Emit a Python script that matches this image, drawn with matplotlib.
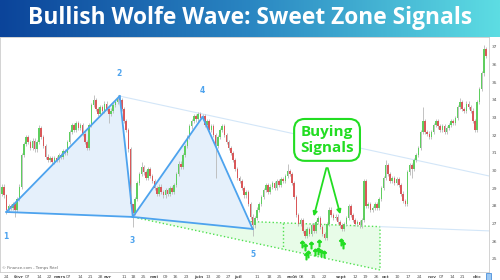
import numpy as np
import matplotlib
matplotlib.use("Agg")
import matplotlib.pyplot as plt
from matplotlib.colors import LinearSegmentedColormap
from matplotlib.patches import Polygon, Rectangle

# daily closes (open = previous close)
first_open = 28.7
closes = [
    29.1, 28.6, 27.8, 28.0, 27.9, 28.1, 27.8, 28.4, 29.1, 30.9,
    31.5, 31.9, 31.6, 31.3, 31.7, 31.2, 31.6, 32.4, 31.9, 31.4,
    30.8, 30.6, 30.7, 30.5, 30.7, 30.6, 30.9, 30.8, 31.1, 31.0,
    31.6, 32.2, 32.6, 32.3, 32.7, 32.4, 32.6, 32.1, 31.6, 31.3,
    32.6, 33.7, 34.0, 33.5, 33.2, 33.6, 33.4, 33.8, 33.5, 33.2,
    33.4, 33.7, 33.9, 34.1, 34.0, 33.5, 32.8, 32.3, 31.2, 28.1,
    27.6, 28.4, 29.3, 29.8, 30.2, 29.9, 29.6, 30.1, 29.7, 29.4,
    29.0, 28.7, 29.1, 28.8, 28.6, 28.9, 28.7, 29.0, 28.8, 29.2,
    29.8, 30.4, 30.2, 30.9, 31.4, 31.9, 32.5, 32.8, 33.1, 32.9,
    33.2, 33.0, 33.1, 32.6, 32.8, 32.3, 32.5, 32.0, 31.4, 31.9,
    32.3, 32.5, 32.0, 31.6, 31.3, 31.0, 30.6, 30.1, 29.6, 29.4,
    29.0, 28.6, 28.8, 28.1, 27.4, 26.9, 27.3, 27.8, 28.1, 28.5,
    28.9, 29.2, 28.8, 29.1, 29.3, 29.0, 29.4, 29.2, 29.5, 29.4,
    29.7, 30.0, 29.8, 29.3, 28.5, 27.5, 27.0, 27.2, 26.6, 26.3,
    26.7, 26.4, 26.9, 26.6, 27.1, 27.3, 26.8, 26.4, 26.2, 27.0,
    27.8, 27.5, 27.3, 27.4, 27.1, 26.9, 26.7, 27.0, 27.3, 28.0,
    27.5, 27.2, 27.0, 27.1, 26.9, 27.2, 29.4, 28.0, 28.1, 27.8,
    27.9, 28.1, 27.9, 28.4, 29.0, 29.6, 30.3, 29.8, 29.4, 29.6,
    29.3, 29.5, 29.2, 28.7, 28.3, 28.1, 29.9, 30.3, 30.1, 30.6,
    30.9, 31.3, 32.2, 32.8, 32.2, 32.1, 31.9, 32.2, 32.6, 32.8,
    32.5, 32.3, 32.5, 32.2, 32.4, 32.6, 32.8, 32.7, 33.0, 33.6,
    33.9, 33.5, 33.4, 33.8, 33.6, 33.4, 32.8, 32.3, 33.9, 34.6,
    35.5, 36.9, 36.5,
]
# the longer wicks: index -> (high, low)
long_wicks = {
    2: (28.7, 27.55), 6: (28.2, 27.4), 17: (32.6, None), 42: (34.3, None),
    49: (None, 32.7), 53: (34.3, None), 60: (28.1, 26.8), 64: (30.5, None),
    98: (None, 29.6), 115: (None, 26.3), 131: (30.4, None), 176: (30.6, None),
    188: (None, 29.6), 193: (33.6, None), 210: (34.1, None), 221: (37.1, None),
}

# wolfe wave points 1..5
wave_x = [2, 54, 60, 92, 115]
wave_y = [27.66, 34.22, 27.38, 33.04, 26.70]
wave_names = ["1", "2", "3", "4", "5"]
name_x = [1.8, 53.7, 59.6, 91.7, 115.1]
name_y = [26.25, 35.5, 26.02, 34.56, 25.23]

# faint 2-4 trendline
line24_x = [54, 223.4]
line24_y = [34.22, 29.70]

# sweet zone
zone_x = [60, 173.4, 173.4]
zone_y = [27.38, 26.83, 24.38]
zone_split_x = 128.9

# buy signal arrows
signal_x = [137.6, 139.0, 141.7, 145.4, 139.4, 140.4, 143.6, 145.0, 146.3, 147.7, 155.5, 156.4]
signal_y = [25.85, 25.68, 25.79, 25.91, 25.17, 25.28, 25.40, 25.45, 25.34, 25.28, 25.96, 25.79]

tick_pos = [1.8, 7.8, 11.9, 17, 21.6, 26.6, 30.7, 35.8, 40.4, 45, 48.6, 56, 60.1, 64.7,
            69.7, 74.8, 79.4, 84.4, 90.4, 94.5, 99.1, 103.7, 108.3, 117, 122.5, 127.5,
            133, 137.6, 142.7, 147.7, 155.5, 161.9, 166.5, 171.6, 176.1, 181.2, 186.2,
            191.3, 197.2, 201.8, 206.4, 211, 217.9]
tick_lab = ["24", "févr", "07", "14", "22", "mars", "07", "14", "21", "28", "avr", "11", "18",
            "25", "mai", "09", "16", "23", "juin", "13", "20", "27", "juil", "11", "18", "25",
            "août", "08", "15", "22", "sept", "12", "19", "26", "oct", "10", "17", "24", "nov",
            "07", "14", "21", "déc"]
price_ticks = list(range(25, 38))

GREEN = '#5fce5f'
RED = '#d9585a'
BLUE = '#4da3ee'
SIG = '#22dd22'

fig = plt.figure(figsize=(5, 2.8), dpi=100)

# --- banner ---
ax_t = fig.add_axes([0, 243 / 280, 1, 37 / 280])
cmap = LinearSegmentedColormap.from_list('ban', ['#0b449a', '#2a86c2', '#5ddde3'])
ax_t.imshow(np.linspace(0, 1, 256)[None, :], aspect='auto', cmap=cmap, extent=[0, 1, 0, 1])
ax_t.text(0.5, 0.5, "Bullish Wolfe Wave: Sweet Zone Signals", color='white', fontsize=16.4,
          fontweight='bold', family='Open Sans', ha='center', va='center')
ax_t.axis('off')

# --- chart ---
ax = fig.add_axes([0, 8 / 280, 489 / 500, 235 / 280])
n = len(closes)
idx = np.arange(n)
c = np.array(closes)
o = np.concatenate([[first_open], c[:-1]])
hi = np.maximum(o, c) + 0.12
lo = np.minimum(o, c) - 0.12
for k, (h, l) in long_wicks.items():
    if h is not None:
        hi[k] = h
    if l is not None:
        lo[k] = l

# sweet zone
ax.add_patch(Polygon(list(zip(zone_x, zone_y)), closed=True, facecolor='#e8fce8',
                     edgecolor='#4fe04f', linestyle=':', lw=1.0, zorder=1))
top_split = np.interp(zone_split_x, zone_x[:2], zone_y[:2])
bot_split = np.interp(zone_split_x, [zone_x[0], zone_x[2]], [zone_y[0], zone_y[2]])
ax.plot([zone_split_x, zone_split_x], [top_split, bot_split], ls=':', color='#4fe04f', lw=1.0, zorder=1)

# triangles
for tri in ([0, 1, 2], [2, 3, 4]):
    pts = [(wave_x[t], wave_y[t]) for t in tri]
    ax.add_patch(Polygon(pts, closed=True, facecolor='#e5f0fb', edgecolor='none', zorder=1))

# faint extensions
ax.plot(line24_x, line24_y, color='#d3e6f8', lw=0.8, zorder=1)
slope13 = (wave_y[2] - wave_y[0]) / (wave_x[2] - wave_x[0])
ax.plot([zone_x[1], 223.4], [zone_y[1], wave_y[2] + slope13 * (223.4 - wave_x[2])],
        color='#d3e6f8', lw=0.8, zorder=1)

# candles
ax.vlines(idx, lo, hi, color='#b8b8b8', lw=0.6, zorder=2)
up = c >= o
body = np.maximum(np.abs(c - o), 0.05)
ax.bar(idx, body, bottom=np.minimum(o, c), width=0.7,
       color=np.where(up, GREEN, RED), lw=0, zorder=3)

# wave lines
for a, b in [(0, 1), (1, 2), (2, 0), (2, 3), (3, 4), (4, 2)]:
    ax.plot([wave_x[a], wave_x[b]], [wave_y[a], wave_y[b]], color=BLUE, lw=1.3, zorder=4)
for t, xx, yy in zip(wave_names, name_x, name_y):
    ax.text(xx, yy, t, color=BLUE, fontsize=5.5, fontweight='bold', ha='center', va='center')

# signals
ax.scatter(signal_x, signal_y, marker=r'$\uparrow$', s=22, color=SIG, zorder=5)
ax.text(149.1, 31.74, "Buying\nSignals", color=SIG, fontsize=11, fontweight='bold',
        family='Open Sans', ha='center', va='center', linespacing=1.15, zorder=6,
        bbox=dict(boxstyle='round,pad=0.4,rounding_size=0.7', fc='white', ec=SIG, lw=1.5))
for tip in [(142.7, 27.26), (155.5, 27.38)]:
    ax.annotate('', xy=tip, xytext=(149.1, 30.3),
                arrowprops=dict(arrowstyle='-|>', color=SIG, lw=1.3, mutation_scale=6), zorder=6)

ax.text(0.004, 0.008, "© Finance.com - Temps Réel", transform=ax.transAxes, fontsize=2.8,
        color='#666666', va='bottom')

ax.set_xlim((0 - 2) / 2.18, (489 - 2) / 2.18)
ax.set_ylim(24.264, 37.564)
ax.yaxis.tick_right()
ax.set_yticks(price_ticks)
ax.set_yticklabels([str(p) for p in price_ticks])
ax.set_xticks(tick_pos)
ax.set_xticklabels(tick_lab)
for lab in ax.get_xticklabels():
    if not lab.get_text().isdigit():
        lab.set_fontweight('bold')
ax.tick_params(axis='both', length=0, labelsize=3.2, colors='#555555', pad=2)
for s in ax.spines.values():
    s.set_color('#cccccc')
    s.set_linewidth(0.6)

fig.patches.append(Rectangle((486 / 500, 0), 5 / 500, 7 / 280, transform=fig.transFigure,
                             facecolor='#9cc8f2', edgecolor='#2f7fd6', lw=0.5))

fig.savefig("out.png", dpi=100)
